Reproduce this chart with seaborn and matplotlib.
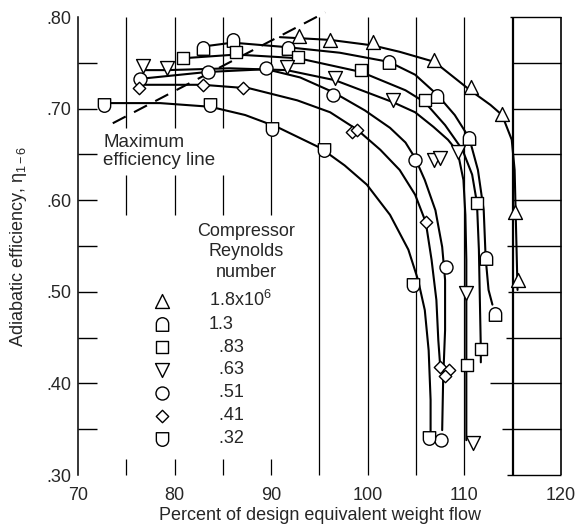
import numpy as np
import seaborn as sns
import matplotlib.pyplot as plt
from matplotlib.path import Path

# Compressor Reynolds number groups, legend order
reynolds_labels = ["1.8x10$^6$", "1.3", "\u2007.83", "\u2007.63", "\u2007.51", "\u2007.41", "\u2007.32"]

# measured points (percent design flow, adiabatic efficiency)
flow_18 = [92.9, 96.1, 100.5, 106.9, 110.7, 113.9, 115.2, 115.5]
eff_18 = [0.779, 0.775, 0.773, 0.753, 0.724, 0.694, 0.587, 0.513]
flow_13 = [82.9, 86.0, 91.7, 102.2, 107.2, 110.5, 112.2, 113.2]
eff_13 = [0.766, 0.775, 0.766, 0.751, 0.714, 0.668, 0.537, 0.476]
flow_083 = [80.9, 86.4, 92.8, 99.3, 105.9, 111.3, 111.7, 110.3]
eff_083 = [0.755, 0.762, 0.756, 0.742, 0.709, 0.597, 0.438, 0.420]
flow_063 = [76.7, 79.2, 91.6, 96.6, 102.6, 106.9, 107.5, 109.3, 110.2, 110.9]
eff_063 = [0.747, 0.744, 0.745, 0.733, 0.709, 0.644, 0.646, 0.653, 0.499, 0.335]
flow_051 = [76.4, 83.5, 89.5, 96.4, 104.9, 108.1, 107.6]
eff_051 = [0.732, 0.740, 0.744, 0.715, 0.644, 0.527, 0.338]
flow_041 = [76.3, 82.9, 87.1, 98.4, 98.9, 106.0, 107.5, 108.4, 108.0]
eff_041 = [0.722, 0.726, 0.722, 0.674, 0.677, 0.576, 0.418, 0.415, 0.408]
flow_032 = [72.7, 83.7, 90.1, 95.5, 104.7, 106.3]
eff_032 = [0.704, 0.704, 0.678, 0.655, 0.507, 0.340]

# faired curves
curve_flow_18 = [90.9, 96.1, 100.5, 103.3, 106.9, 110.6, 112.7, 113.9, 114.9, 115.2, 115.3, 115.4, 115.5]
curve_eff_18 = [0.778, 0.775, 0.769, 0.762, 0.751, 0.720, 0.704, 0.693, 0.666, 0.633, 0.589, 0.546, 0.502]
curve_flow_13 = [83.1, 86.0, 91.7, 97.1, 102.2, 104.9, 107.2, 109.0, 110.5, 111.4, 112.0, 112.2, 112.5, 112.9]
curve_eff_13 = [0.768, 0.772, 0.767, 0.761, 0.751, 0.737, 0.715, 0.693, 0.668, 0.633, 0.589, 0.537, 0.502, 0.486]
curve_flow_083 = [80.9, 86.4, 92.8, 99.3, 103.9, 105.9, 108.0, 109.8, 110.8, 111.3, 111.5, 111.6, 111.7, 111.7]
curve_eff_083 = [0.755, 0.759, 0.755, 0.740, 0.720, 0.707, 0.682, 0.655, 0.628, 0.597, 0.546, 0.491, 0.438, 0.423]
curve_flow_063 = [76.7, 79.2, 85.7, 91.6, 96.6, 102.6, 104.9, 106.8, 108.3, 109.3, 109.9, 110.1, 110.2, 110.2, 110.2]
curve_eff_063 = [0.742, 0.742, 0.744, 0.742, 0.731, 0.707, 0.696, 0.680, 0.666, 0.653, 0.622, 0.584, 0.535, 0.426, 0.338]
curve_flow_051 = [76.9, 80.6, 83.4, 89.5, 93.0, 96.4, 99.7, 102.3, 103.9, 104.9, 105.9, 107.0, 107.7, 108.0, 108.0, 107.8, 107.7]
curve_eff_051 = [0.733, 0.737, 0.740, 0.743, 0.734, 0.718, 0.698, 0.679, 0.663, 0.646, 0.622, 0.589, 0.549, 0.513, 0.458, 0.404, 0.349]
curve_flow_041 = [76.9, 82.9, 87.8, 92.7, 96.1, 98.9, 101.3, 103.3, 104.9, 106.0, 106.6, 107.1, 107.3, 107.5]
curve_eff_041 = [0.726, 0.726, 0.722, 0.709, 0.696, 0.677, 0.655, 0.633, 0.606, 0.576, 0.535, 0.491, 0.447, 0.418]
curve_flow_032 = [73.3, 78.5, 83.7, 87.3, 90.6, 95.1, 97.6, 99.9, 102.3, 104.2, 105.2, 105.9, 106.3, 106.5, 106.5]
curve_eff_032 = [0.706, 0.706, 0.702, 0.693, 0.680, 0.657, 0.638, 0.617, 0.584, 0.546, 0.513, 0.480, 0.436, 0.382, 0.347]

# maximum efficiency line (dashed)
max_eff_flow = [73.6, 95.6]
max_eff_eff = [0.684, 0.805]


# half-round markers: dome (flat bottom) and cup (flat top)
arc = Path.arc(0, 180)
dome_verts = np.vstack([arc.vertices + [0, 0.1], [[-1, -1.1], [1, -1.1], [1, 0.1]]])
dome_codes = list(arc.codes) + [Path.LINETO, Path.LINETO, Path.CLOSEPOLY]
dome = Path(dome_verts, dome_codes)
cup = Path(dome_verts * [1, -1], dome_codes)

series = [
    (flow_18, eff_18, curve_flow_18, curve_eff_18, "^", 100),
    (flow_13, eff_13, curve_flow_13, curve_eff_13, dome, 95),
    (flow_083, eff_083, curve_flow_083, curve_eff_083, "s", 72),
    (flow_063, eff_063, curve_flow_063, curve_eff_063, "v", 100),
    (flow_051, eff_051, curve_flow_051, curve_eff_051, "o", 88),
    (flow_041, eff_041, curve_flow_041, curve_eff_041, "D", 40),
    (flow_032, eff_032, curve_flow_032, curve_eff_032, cup, 95),
]

sns.set_style("white")
plt.rcParams["font.family"] = ["Liberation Sans", "DejaVu Sans"]
plt.rcParams["mathtext.fontset"] = "custom"
plt.rcParams["mathtext.rm"] = "Liberation Sans"
plt.rcParams["mathtext.it"] = "Liberation Sans:italic"
plt.rcParams["font.size"] = 13

fig = plt.figure(figsize=(5.8, 5.26), dpi=100)
ax = fig.add_axes([78 / 580, 1 - 475 / 526, 483 / 580, 458 / 526])
ax.set_xlim(70, 120)
ax.set_ylim(0.30, 0.80)

# partial grid like the original chart
grid_kw = dict(color="black", lw=0.9, zorder=1, clip_on=False)
ax.vlines([75, 80, 85], 0.679, 0.80, **grid_kw)
ax.vlines([75, 80, 85], 0.584, 0.628, **grid_kw)
ax.vlines(90, 0.584, 0.80, **grid_kw)
ax.vlines([75, 80, 85, 90], 0.30, 0.318, **grid_kw)
ax.vlines([95, 100, 105, 110], 0.30, 0.80, **grid_kw)
ax.vlines(115, 0.30, 0.80, color="black", lw=1.6, zorder=1, clip_on=False)
ax.vlines(120, 0.30, 0.80, color="black", lw=1.2, zorder=1, clip_on=False)
box_y = [0.80, 0.75, 0.70, 0.65, 0.60, 0.55, 0.50, 0.45, 0.40, 0.35, 0.30]
box_start = [114.7, 115, 115, 115, 115, 114.4, 114.5, 114.3, 112.6, 113.9, 114.4]
ax.hlines(box_y, box_start, 120, color="black", lw=1.0, zorder=1, clip_on=False)
ax.hlines(np.arange(0.35, 0.79, 0.05), 70, 72, color="black", lw=1.0, zorder=1)

for fx, fy, cx, cy, m, s in series:
    sns.lineplot(x=cx, y=cy, sort=False, estimator=None, color="black", lw=1.5, ax=ax, zorder=2)

for (fx, fy, cx, cy, m, s), lab in zip(series, reynolds_labels):
    sns.scatterplot(x=fx, y=fy, marker=m, s=s, color="white", edgecolor="black",
                    linewidth=1.0, ax=ax, zorder=4, label=lab, clip_on=False)

ax.plot(max_eff_flow, max_eff_eff, color="black", lw=1.5, dashes=(7, 4.5), clip_on=False, zorder=2)
ax.text(72.6, 0.653, "Maximum\nefficiency line", ha="left", va="center", fontsize=13.5, linespacing=1.1)

# legend
ax.text(87.4, 0.5435, "Compressor\nReynolds\nnumber", ha="center", va="center", fontsize=13, linespacing=1.25)
handles, labels = ax.get_legend_handles_labels()
ax.legend(handles, labels, loc="upper left", bbox_to_anchor=(0.155, 0.405), frameon=False,
          borderpad=0, borderaxespad=0, handlelength=1.0, handletextpad=2.1,
          labelspacing=0.33, fontsize=13)

# axes
for side in ["top", "right", "bottom"]:
    ax.spines[side].set_visible(False)
ax.spines["left"].set_linewidth(1.1)
ax.spines["left"].set_color("black")
ax.set_xticks(np.arange(70, 121, 10))
ax.set_yticks(np.arange(0.30, 0.81, 0.10))
ax.set_yticklabels([".30", ".40", ".50", ".60", ".70", ".80"])
ax.tick_params(axis="x", length=0, pad=9, labelsize=13)
ax.tick_params(axis="y", length=0, pad=5, labelsize=13)
ax.set_xlabel("Percent of design equivalent weight flow", fontsize=13, labelpad=2)
ax.set_ylabel("Adiabatic efficiency, η$_{1-6}$", fontsize=13, labelpad=12)

fig.savefig("out.png", dpi=100)
